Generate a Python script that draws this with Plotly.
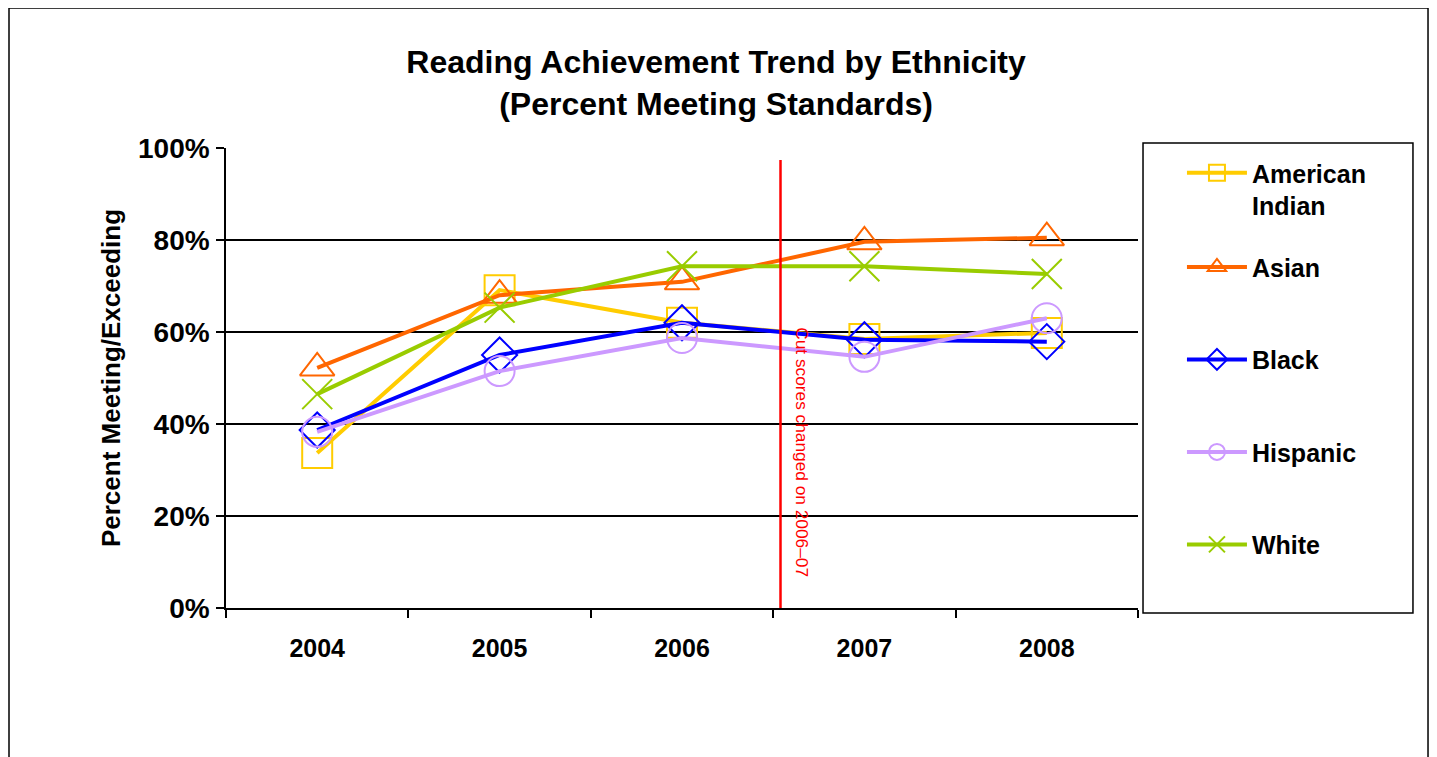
import plotly.graph_objects as go

years = ["2004", "2005", "2006", "2007", "2008"]
series_names = ["American Indian", "Asian", "Black", "Hispanic", "White"]
legend_labels = ["American<br>Indian", "Asian", "Black", "Hispanic", "White"]
american_indian = [0.337, 0.691, 0.620, 0.585, 0.598]
asian = [0.522, 0.680, 0.709, 0.796, 0.805]
black = [0.387, 0.550, 0.620, 0.583, 0.579]
hispanic = [0.383, 0.515, 0.587, 0.546, 0.630]
white = [0.465, 0.653, 0.743, 0.743, 0.726]
y_ticks = [0, 0.2, 0.4, 0.6, 0.8, 1.0]
y_tick_labels = ["0%", "20%", "40%", "60%", "80%", "100%"]
cut_note = "Cut scores changed on 2006\u201307"

values = [american_indian, asian, black, hispanic, white]
colors = ["#FFCC00", "#FF6600", "#0000FF", "#CC99FF", "#99CC00"]
symbols = ["square-open", "triangle-up-open", "diamond-open", "circle-open", "x-thin-open"]
sizes = [30, 30, 27, 30, 30]

FONT = "Liberation Sans, Arial, sans-serif"

fig = go.Figure()
for i, (name, lab, vals) in enumerate(zip(series_names, legend_labels, values)):
    fig.add_trace(go.Scatter(
        x=years, y=vals, name=lab, mode="lines+markers",
        line=dict(color=colors[i], width=4),
        marker=dict(symbol=symbols[i], size=sizes[i], color=colors[i],
                    line=dict(color=colors[i], width=2)),
        legend="legend" if i == 0 else "legend2",
        legendgroup=name,
    ))

# cut-score change line
fig.add_shape(type="line", xref="x", yref="y", x0=2.54, x1=2.54, y0=0, y1=0.974,
              line=dict(color="#FF0000", width=2.5))
fig.add_annotation(x=2.657, y=0.339, xref="x", yref="y", text=cut_note,
                   textangle=90, showarrow=False,
                   font=dict(family=FONT, size=17.3, color="#FF0000"))

# legend frame
fig.add_shape(type="rect", xref="paper", yref="paper",
              x0=1.0055, x1=1.3015, y0=-0.0109, y1=1.0109,
              line=dict(color="black", width=1.5), fillcolor="rgba(0,0,0,0)")
# outer chart frame
fig.add_shape(type="rect", xref="paper", yref="paper",
              x0=(1 - 218) / 912, x1=1.318, y0=-0.6, y1=1.3043,
              line=dict(color="black", width=1.5), fillcolor="rgba(0,0,0,0)")

legend_common = dict(
    font=dict(family=FONT, size=25, color="black", weight="bold"),
    bgcolor="rgba(0,0,0,0)", borderwidth=0, itemwidth=60,
    xanchor="left", yanchor="top", valign="top",
    itemclick=False, itemdoubleclick=False,
)

fig.update_layout(
    width=1429, height=749,
    margin=dict(l=218, r=299, t=140, b=149),
    paper_bgcolor="white", plot_bgcolor="white",
    font=dict(family=FONT, color="black"),
    title=dict(
        text="Reading Achievement Trend by Ethnicity<br>(Percent Meeting Standards)",
        x=0.4955, xref="container", xanchor="center",
        y=1 - 65 / 749, yref="container", yanchor="top",
        font=dict(family=FONT, size=32, color="black", weight="bold"),
    ),
    legend=dict(x=1.0482, y=0.9956, tracegroupgap=0, **legend_common),
    legend2=dict(x=1.0482, y=0.791, tracegroupgap=57, **legend_common),
    xaxis=dict(
        type="category", range=[-0.5, 4.5],
        showline=True, linecolor="black", linewidth=1.5,
        ticks="outside", tickson="boundaries", ticklen=8, tickwidth=1.5, tickcolor="black",
        showgrid=False, ticklabelstandoff=17,
        tickfont=dict(family=FONT, size=25, color="black", weight="bold"),
    ),
    yaxis=dict(
        range=[0, 1], tickvals=y_ticks, ticktext=y_tick_labels,
        showline=True, linecolor="black", linewidth=1.5,
        ticks="outside", ticklen=8, tickwidth=1.5, tickcolor="black",
        showgrid=True, gridcolor="black", gridwidth=1.5, zeroline=False,
        ticklabelstandoff=1,
        tickfont=dict(family=FONT, size=28, color="black", weight="bold"),
        title=dict(text="Percent Meeting/Exceeding", standoff=10,
                   font=dict(family=FONT, size=26, color="black", weight="bold")),
    ),
    showlegend=True,
)

fig.write_html("out.html")
